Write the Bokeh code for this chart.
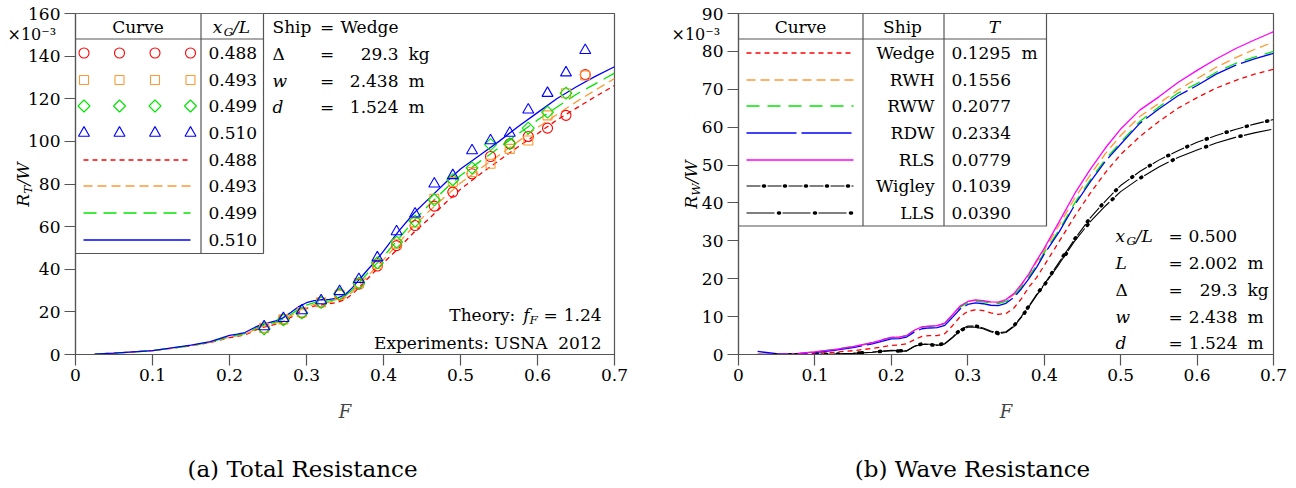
import math
from bokeh.plotting import figure
from bokeh.models import Label, Range1d, FixedTicker, GridBox, Row
from bokeh.embed import file_html
from bokeh.resources import INLINE

# ---------------- data ----------------
x_ticks = [0, 0.1, 0.2, 0.3, 0.4, 0.5, 0.6, 0.7]
x_tick_labels = ["0", "0.1", "0.2", "0.3", "0.4", "0.5", "0.6", "0.7"]
yA_ticks = [0, 20, 40, 60, 80, 100, 120, 140, 160]
yB_ticks = [0, 10, 20, 30, 40, 50, 60, 70, 80, 90]

# (a) experiments (USNA 2012), R_T/W x 1e-3
exp_F = [0.245, 0.270, 0.294, 0.319, 0.343, 0.368, 0.392, 0.417, 0.441,
         0.466, 0.490, 0.515, 0.539, 0.564, 0.588, 0.613, 0.637, 0.662]
exp_488 = [12.5, 16.5, 19.5, 24.5, 28.0, 33.0, 41.5, 51.1, 60.5,
           69.6, 76.2, 84.8, 92.9, 98.9, 102.3, 106.2, 112.2, 131.3]
exp_493 = [12.5, 16.5, 19.8, 24.5, 28.0, 33.5, 42.5, 52.0, 62.0,
           73.0, 81.0, 85.6, 89.5, 96.5, 100.4, 112.2, 122.6, 130.9]
exp_499 = [12.0, 16.3, 19.5, 24.5, 28.5, 33.5, 43.0, 52.7, 62.6,
           72.6, 82.0, 87.6, 98.5, 98.9, 106.2, 113.7, 122.6]
exp_510 = [13.1, 17.0, 20.6, 25.3, 29.6, 35.3, 45.4, 57.7, 66.0,
           80.1, 84.0, 95.7, 100.4, 103.9, 114.8, 122.6, 132.2, 142.7]

# theory curves
F_grid = [0.025, 0.05, 0.075, 0.1, 0.125, 0.15, 0.175, 0.19, 0.2, 0.21, 0.22, 0.23,
          0.24, 0.25, 0.26, 0.27, 0.28, 0.29, 0.3, 0.31, 0.32, 0.33, 0.34, 0.35,
          0.36, 0.37, 0.38, 0.39, 0.4, 0.42, 0.44, 0.46, 0.48, 0.5, 0.525, 0.55,
          0.575, 0.6, 0.625, 0.65, 0.675, 0.7]
th_488 = [0.2, 0.6, 1.2, 1.8, 2.9, 4.1, 5.6, 7.0, 7.9, 8.5, 9.2, 10.8,
          12.4, 13.3, 14.2, 15.5, 17.5, 19.8, 21.6, 22.7, 23.3, 23.8, 24.5, 25.8,
          28.5, 32.0, 35.8, 39.5, 43.0, 50.0, 57.5, 64.0, 71.0, 77.5, 84.5, 91.0,
          97.5, 103.6, 110.0, 115.5, 121.0, 126.2]
th_493 = [0.2, 0.6, 1.2, 1.8, 2.9, 4.1, 5.7, 7.2, 8.2, 8.8, 9.5, 11.2,
          12.8, 13.8, 14.7, 16.0, 18.2, 20.6, 22.4, 23.5, 24.1, 24.5, 25.2, 26.6,
          29.5, 33.2, 37.0, 40.8, 44.5, 52.5, 60.5, 67.5, 74.0, 80.5, 87.0, 93.5,
          100.0, 106.5, 112.5, 118.5, 124.0, 129.5]
th_499 = [0.2, 0.6, 1.2, 1.8, 3.0, 4.2, 5.8, 7.4, 8.5, 9.1, 9.8, 11.6,
          13.3, 14.3, 15.2, 16.6, 18.9, 21.4, 23.2, 24.3, 24.9, 25.2, 25.9, 27.4,
          30.5, 34.4, 38.4, 42.3, 46.0, 54.5, 63.0, 70.5, 77.5, 84.0, 90.5, 97.0,
          103.5, 110.0, 116.0, 122.0, 127.0, 132.0]
th_510 = [0.2, 0.6, 1.2, 1.8, 3.1, 4.4, 6.0, 7.8, 9.0, 9.6, 10.3, 12.2,
          13.9, 14.8, 15.8, 17.3, 19.8, 22.5, 24.3, 25.3, 25.7, 25.9, 26.5, 28.0,
          31.5, 35.8, 40.0, 44.0, 48.5, 58.0, 66.5, 73.5, 80.5, 87.0, 93.5, 100.0,
          107.0, 113.5, 120.0, 125.5, 130.5, 135.0]

# (b) wave resistance R_W/W x 1e-3
rw_wedge = [0.0, 0.0, 0.1, 0.3, 0.6, 1.0, 1.6, 2.1, 2.4, 2.5, 2.8, 3.9,
            4.8, 5.0, 5.0, 5.5, 7.6, 10.0, 11.4, 11.8, 11.6, 11.0, 10.6, 10.8,
            12.2, 14.7, 17.8, 20.3, 23.5, 30.0, 36.5, 42.5, 48.0, 52.8, 57.5, 61.5,
            65.0, 67.8, 70.3, 72.3, 74.0, 75.3]
rw_rwh = [0.0, 0.05, 0.2, 0.7, 1.3, 2.1, 3.1, 4.0, 4.5, 4.6, 5.0, 6.4,
          7.3, 7.5, 7.6, 8.3, 10.4, 12.7, 13.9, 14.3, 14.1, 13.8, 13.6, 14.3,
          15.8, 18.2, 21.0, 24.4, 27.5, 34.3, 41.3, 47.3, 53.0, 57.8, 62.8, 66.3,
          69.8, 72.8, 75.8, 78.3, 80.5, 82.5]
rw_rww = [0.0, 0.05, 0.2, 0.7, 1.3, 2.1, 3.1, 4.0, 4.5, 4.6, 5.0, 6.3,
          7.2, 7.4, 7.5, 8.2, 10.3, 12.5, 13.7, 14.1, 13.9, 13.6, 13.4, 14.0,
          15.5, 17.8, 20.5, 23.6, 26.9, 33.0, 40.0, 46.0, 51.5, 56.0, 61.5, 65.3,
          69.0, 71.5, 74.5, 76.8, 78.5, 80.0]
rw_rdw = [0.8, 0.2, 0.1, 0.5, 1.1, 1.8, 2.8, 3.6, 4.1, 4.2, 4.6, 5.9,
          6.8, 7.0, 7.1, 7.7, 9.8, 12.0, 13.2, 13.6, 13.4, 13.0, 12.9, 13.5,
          15.0, 17.3, 20.0, 23.0, 26.5, 32.5, 39.5, 45.5, 51.0, 55.5, 61.0, 64.8,
          68.3, 71.0, 74.0, 76.3, 78.0, 79.5]
rw_rls = [0.0, 0.05, 0.2, 0.7, 1.3, 2.1, 3.1, 4.0, 4.5, 4.6, 5.0, 6.4,
          7.3, 7.5, 7.6, 8.3, 10.5, 12.8, 14.0, 14.4, 14.2, 13.9, 13.8, 14.5,
          16.0, 18.5, 21.3, 24.8, 28.0, 35.2, 42.5, 48.8, 54.5, 59.5, 64.5, 68.0,
          71.8, 75.0, 78.0, 80.7, 83.0, 85.2]
rw_wigley = [-0.1, -0.1, -0.1, 0.0, 0.1, 0.3, 0.6, 0.9, 1.1, 1.0, 1.0, 2.2,
             2.8, 2.7, 2.5, 2.9, 4.6, 6.5, 7.5, 7.5, 7.0, 6.2, 5.7, 6.0,
             7.5, 10.0, 12.8, 15.8, 18.5, 24.5, 30.5, 36.0, 40.5, 44.6, 48.3, 51.3,
             53.8, 56.0, 57.8, 59.4, 60.8, 62.0]
rw_lls = [-0.1, -0.1, -0.1, 0.0, 0.1, 0.3, 0.6, 0.9, 1.0, 0.9, 0.9, 2.1,
          2.7, 2.6, 2.4, 2.8, 4.4, 6.3, 7.2, 7.2, 6.8, 6.0, 5.5, 5.8,
          7.3, 9.8, 12.6, 15.6, 18.3, 24.0, 30.0, 35.0, 39.2, 43.0, 46.5, 49.5,
          52.0, 54.0, 55.8, 57.3, 58.5, 59.5]

xg_labels = ["0.488", "0.493", "0.499", "0.510"]
ship_names = ["Wedge", "RWH", "RWW", "RDW", "RLS", "Wigley", "LLS"]
ship_T = ["0.1295", "0.1556", "0.2077", "0.2334", "0.0779", "0.1039", "0.0390"]

# ---------------- style ----------------
FONT = "DejaVu Serif"
FS = 17
GRAY = "#555555"
RED, ORANGE, GREEN, BLUE, MAG, BLACK = "#ff0000", "#ff9933", "#00e600", "#0000ff", "#ff00ff", "#000000"
W, H = 1296, 488
FT, FB = 13, 354

EM = {c: 0.636 for c in "0123456789"}
EM.update({".": .318, ",": .318, ":": .337, "=": .838, "×": .838, "−": .838, "(": .39, ")": .39,
           "/": .337, " ": .318, "A": .722, "C": .734, "D": .83, "E": .715, "F": .67, "G": .775,
           "H": .872, "L": .667, "N": .837, "R": .77, "S": .685, "T": .682, "U": .812, "W": 1.03,
           "Δ": .75, "a": .596, "b": .64, "c": .56, "d": .64, "e": .592, "f": .37, "g": .64,
           "h": .644, "i": .32, "k": .6, "l": .32, "m": .948, "n": .644, "o": .602, "p": .64,
           "r": .478, "s": .513, "t": .402, "u": .644, "v": .565, "w": .856, "x": .645, "y": .565,
           "⁻": .4, "³": .4})


def text_w(s, size):
    return sum(EM.get(c, 0.62) for c in s) * size


# ---------- overlay (all free text, page pixel coordinates) ----------
ov = figure(width=W, height=H, x_range=Range1d(0, W), y_range=Range1d(H, 0),
            x_axis_type=None, y_axis_type=None, output_backend="svg", toolbar_location=None,
            min_border=0, min_border_left=0, min_border_right=0, min_border_top=0, min_border_bottom=0)
ov.outline_line_color = None
ov.background_fill_color = None
ov.border_fill_color = None
ov.grid.visible = False


def label(px, py, text, size=FS, style="normal", align="left", angle=0.0):
    ov.add_layout(Label(x=px, y=py, text=text, text_font=FONT, text_font_size=f"{size:.1f}px",
                        text_font_style=style, text_align=align, text_baseline="middle",
                        angle=angle, text_color=BLACK))


def rich(x, y, parts, size=FS, align="left", angle=0.0):
    items = []
    for t, st, kind in parts:
        if kind == "gap":
            items.append((None, st, kind, t * size))
            continue
        s = size * 0.7 if kind in ("sub", "sup") else size
        items.append((t, st, kind, text_w(t, s)))
    total = sum(i[3] for i in items)
    off = 0 if align == "left" else (total / 2 if align == "center" else total)
    pos = -off
    for t, st, kind, w in items:
        if t is not None:
            s = size * 0.7 if kind in ("sub", "sup") else size
            shift = 0.3 * size if kind == "sub" else (-0.45 * size if kind == "sup" else 0)
            if angle == 0:
                label(x + pos, y + shift, t, size=s, style=st)
            else:
                label(x + shift, y - pos, t, size=s, style=st, angle=angle)
        pos += w


class Panel:
    def __init__(self, page_x0, width, bl, br, ymax, yticks):
        self.fl = page_x0 + bl
        self.fr = page_x0 + width - br
        self.ymax = ymax
        p = figure(width=width, height=H, x_range=Range1d(0, 0.7), y_range=Range1d(0, ymax),
                   output_backend="svg", toolbar_location=None,
                   min_border_left=bl, min_border_right=br, min_border_top=FT, min_border_bottom=H - FB)
        p.grid.visible = False
        p.outline_line_color = GRAY
        p.outline_line_width = 1.2
        p.background_fill_color = "white"
        p.border_fill_color = "white"
        for ax in (p.xaxis[0], p.yaxis[0]):
            ax.axis_line_color = GRAY
            ax.axis_line_width = 1.2
            ax.major_tick_line_color = GRAY
            ax.major_tick_line_width = 1.2
            ax.major_tick_in = 0
            ax.major_tick_out = 11
            ax.minor_tick_line_color = None
            ax.major_label_text_font = FONT
            ax.major_label_text_font_size = f"{FS}px"
            ax.major_label_text_color = BLACK
        p.xaxis.ticker = FixedTicker(ticks=x_ticks)
        p.xaxis.major_label_overrides = dict(zip(x_ticks, x_tick_labels))
        p.xaxis.major_label_standoff = 3
        p.yaxis.ticker = FixedTicker(ticks=yticks)
        p.yaxis.major_label_overrides = {t: str(t) for t in yticks}
        p.yaxis.major_label_standoff = 4
        p.xaxis.axis_label = "F"
        p.xaxis.axis_label_text_font = FONT
        p.xaxis.axis_label_text_font_style = "italic"
        p.xaxis.axis_label_text_font_size = "18px"
        p.xaxis.axis_label_standoff = 17
        self.p = p

    def dx(self, px):
        return (px - self.fl) / (self.fr - self.fl) * 0.7

    def dy(self, py):
        return (FB - py) / (FB - FT) * self.ymax

    def seg(self, x0, y0, x1, y1, color=GRAY, width=1.2):
        self.p.segment(x0=[self.dx(x0)], y0=[self.dy(y0)], x1=[self.dx(x1)], y1=[self.dy(y1)],
                       line_color=color, line_width=width)

    def box(self, x0, y0, x1, y1):
        self.p.quad(left=[self.dx(x0)], right=[self.dx(x1)], top=[self.dy(y0)], bottom=[self.dy(y1)],
                    fill_color="white", line_color=GRAY, line_width=1.2)


def dotted_curve(p, xs, ys, period, dash, dot_pos):
    p.line(xs, ys, line_color=BLACK, line_width=1.1, line_dash=f"{dash} {period - dash}")
    p.line(xs, ys, line_color=BLACK, line_width=3.6, line_cap="round",
           line_dash=f"1 {period - 1}", line_dash_offset=int(round(period - dot_pos)))


LW = 1.3
# ======================= panel (a) =======================
A = Panel(0, 648, 75, 34, 160, yA_ticks)
pa = A.p
line_styles_a = [(th_488, RED, "5 4"), (th_493, ORANGE, "9 5"), (th_499, GREEN, "13 7"), (th_510, BLUE, "solid")]
for ys, col, dash in line_styles_a:
    pa.line(F_grid, ys, line_color=col, line_width=LW, line_dash=dash)

pa.scatter(exp_F, exp_488, marker="circle", size=10, fill_color=None, line_color=RED, line_width=1.1)
pa.scatter(exp_F, exp_493, marker="square", size=9, fill_color=None, line_color=ORANGE, line_width=1.1)
pa.scatter(exp_F[:len(exp_499)], exp_499, marker="square", angle=math.pi / 4, size=8.5,
           fill_color=None, line_color=GREEN, line_width=1.1)
pa.scatter(exp_F, exp_510, marker="triangle", size=11, fill_color=None, line_color=BLUE, line_width=1.1)

# legend table (a)
A.box(75, 13, 263, 253)
A.seg(75, 38.5, 263, 38.5)
A.seg(200.5, 13, 200.5, 253)
label(137.5, 26, "Curve", align="center")
rich(231, 26, [("x", "italic", "n"), ("G", "italic", "sub"), ("/L", "italic", "n")], align="center")
rows_a = [52.5, 79.5, 105.5, 132.5, 159.5, 185.5, 212.5, 239.5]
mk = [("circle", RED, 10, 0), ("square", ORANGE, 9, 0), ("square", GREEN, 8.5, math.pi / 4), ("triangle", BLUE, 11, 0)]
mx = [83.5, 119, 154.5, 190]
for i, (m, col, sz, ang) in enumerate(mk):
    pa.scatter([A.dx(x) for x in mx], [A.dy(rows_a[i])] * 4, marker=m, size=sz, angle=ang,
               fill_color=None, line_color=col, line_width=1.1)
for i, (ys, col, dash) in enumerate(line_styles_a):
    y = A.dy(rows_a[4 + i])
    pa.line([A.dx(83), A.dx(190)], [y, y], line_color=col, line_width=LW, line_dash=dash)
for i in range(8):
    label(208, rows_a[i], xg_labels[i % 4])

# ship info (a)
label(272, 26, "Ship")
label(326.5, 26, "=", align="center")
label(340, 26, "Wedge")
info_a = [("Δ", "normal", "29.3", "kg"), ("w", "italic", "2.438", "m"), ("d", "italic", "1.524", "m")]
for i, (sym, st, val, unit) in enumerate(info_a):
    yy = [53.3, 80, 106.7][i]
    label(272, yy, sym, style=st)
    label(326.5, yy, "=", align="center")
    label(398, yy, val, align="right")
    label(408, yy, unit)

rich(601, 314, [("Theory:", "normal", "n"), (0.45, "normal", "gap"), ("f", "italic", "n"),
                ("F", "italic", "sub"), (0.35, "normal", "gap"), ("=", "normal", "n"),
                (0.35, "normal", "gap"), ("1.24", "normal", "n")], align="right")
label(601, 342, "Experiments:\u00a0USNA\u00a0\u00a02012", align="right")

rich(22, 184, [("R", "italic", "n"), ("T", "italic", "sub"), ("/W", "italic", "n")], angle=math.pi / 2,
     align="center")
label(7, 34, "×10⁻³", size=16)
label(302, 468, "(a) Total Resistance", size=23, align="center")

# ======================= panel (b) =======================
B = Panel(648, 648, 90, 23, 90, yB_ticks)
pb = B.p
ship_styles = [(rw_wedge, RED, "5 4"), (rw_rwh, ORANGE, "9 5"), (rw_rww, GREEN, "13 8"),
               (rw_rdw, BLUE, "50 5"), (rw_rls, MAG, "solid")]
for ys, col, dash in ship_styles:
    pb.line(F_grid, ys, line_color=col, line_width=LW, line_dash=dash)
dotted_curve(pb, F_grid, rw_wigley, 21, 14, 17.5)
dotted_curve(pb, F_grid, rw_lls, 36, 28, 32)

# legend table (b)
B.box(738, 13, 1046, 225.5)
B.seg(738, 38.5, 1046, 38.5)
B.seg(862.5, 13, 862.5, 225.5)
B.seg(943.5, 13, 943.5, 225.5)
label(800, 26, "Curve", align="center")
label(902, 26, "Ship", align="center")
label(994, 26, "T", style="italic", align="center")
rows_b = [52.5, 79.5, 105.5, 132.5, 159.5, 185.5, 212.5]
for i, (ys, col, dash) in enumerate(ship_styles):
    y = B.dy(rows_b[i])
    pb.line([B.dx(746), B.dx(853)], [y, y], line_color=col, line_width=LW, line_dash=dash)
dotted_curve(pb, [B.dx(746), B.dx(853)], [B.dy(rows_b[5])] * 2, 21, 14, 17.5)
dotted_curve(pb, [B.dx(746), B.dx(853)], [B.dy(rows_b[6])] * 2, 36, 28, 32)
for i in range(7):
    label(934, rows_b[i], ship_names[i], align="right")
    label(951, rows_b[i], ship_T[i])
label(1021, rows_b[0], "m")

# ship info (b)
rich(1115, 235, [("x", "italic", "n"), ("G", "italic", "sub"), ("/L", "italic", "n")])
label(1175, 235, "=", align="center")
label(1188, 235, "0.500")
info_b = [("L", "italic", "2.002", "m"), ("Δ", "normal", "29.3", "kg"),
          ("w", "italic", "2.438", "m"), ("d", "italic", "1.524", "m")]
for i, (sym, st, val, unit) in enumerate(info_b):
    yy = [262, 289, 316, 342][i]
    label(1115, yy, sym, style=st)
    label(1175, yy, "=", align="center")
    label(1237, yy, val, align="right")
    label(1247, yy, unit)

rich(690, 184, [("R", "italic", "n"), ("W", "italic", "sub"), ("/W", "italic", "n")], angle=math.pi / 2,
     align="center")
label(671, 34, "×10⁻³", size=16)
label(972, 468, "(b) Wave Resistance", size=23, align="center")

plots = Row(children=[pa, pb])
grid = GridBox(children=[(plots, 0, 0), (ov, 0, 0)])
open("out.html", "w").write(file_html(grid, INLINE))
